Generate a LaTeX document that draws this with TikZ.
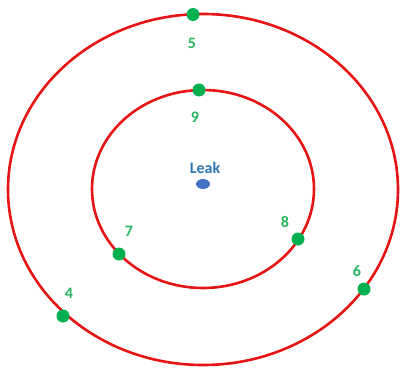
\documentclass[tikz,border=0pt]{standalone}
\usepackage{fontspec}
\setmainfont{Carlito}
\usetikzlibrary{shapes.geometric}
\definecolor{ringred}{RGB}{230,20,20}
\definecolor{ptgreen}{RGB}{0,176,80}
\definecolor{numgreen}{RGB}{40,180,95}
\definecolor{leakblue}{RGB}{46,117,182}
\definecolor{dotblue}{RGB}{68,114,196}
\begin{document}
\begin{tikzpicture}[x=1pt,y=-1pt,
  ring/.style={draw=ringred,line width=2.6pt},
  pt/.style={circle,fill=ptgreen,inner sep=0pt,minimum size=13pt},
  num/.style={text=numgreen,font=\fontsize{16}{16}\selectfont\bfseries,inner sep=0pt}]
\useasboundingbox (0,0) rectangle (401,369);
\draw[ring] (203,189.5) ellipse[x radius=195,y radius=175.5];
\draw[ring] (203,189) ellipse[x radius=111,y radius=99];
\foreach \n/\x/\y in {5/193/14.5,9/199/90,7/119/254,8/298/239,4/63/316,6/364/289}\node[pt] (p\n) at (\x,\y){};
\foreach \n/\x/\y in {5/192/43,9/195/117,7/129/231,8/285/222,4/69/293,6/357/271}\node[num] (l\n) at (\x,\y){\n};
\node[text=leakblue,font=\fontsize{16}{16}\selectfont\bfseries,inner sep=0pt] (leak) at (205,168){Leak};
\node[ellipse,fill=dotblue,inner sep=0pt,minimum width=14pt,minimum height=10pt] (src) at (203,184){};
\end{tikzpicture}
\end{document}
